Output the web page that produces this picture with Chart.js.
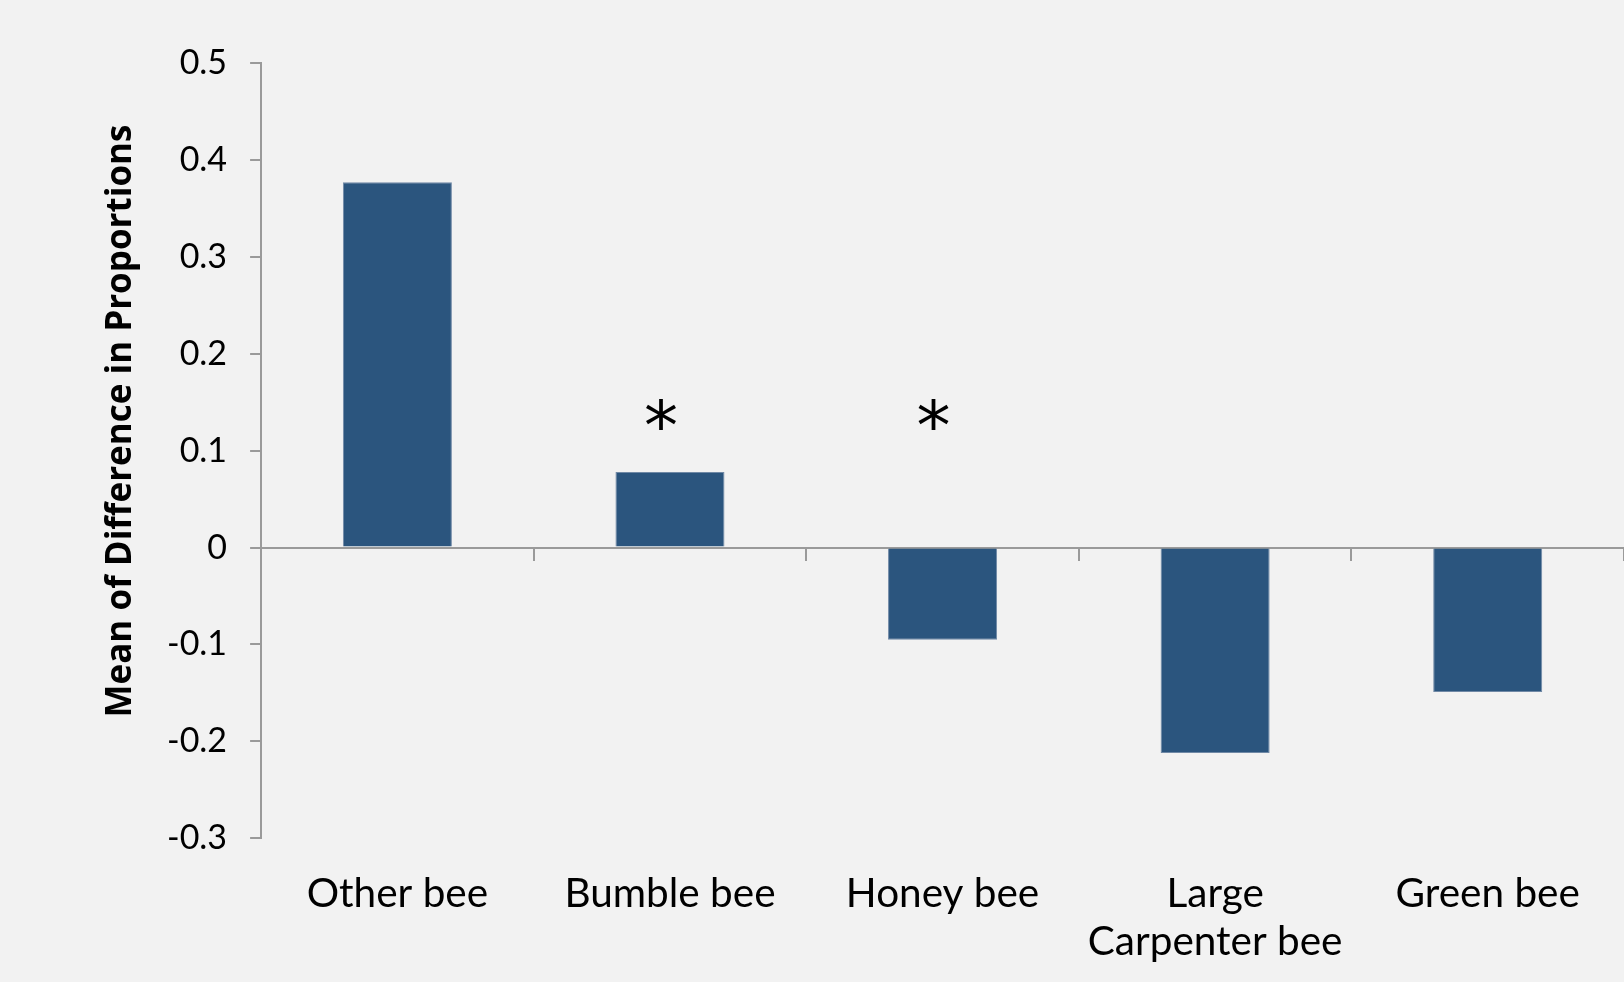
<!DOCTYPE html>
<html>
<head>
<meta charset="utf-8">
<script src="https://cdn.jsdelivr.net/npm/chart.js@4.4.1/dist/chart.umd.min.js"></script>
<style>
  html, body { margin: 0; padding: 0; background: #f2f2f2; }
  #wrap { width: 1624px; height: 982px; position: relative; }
</style>
</head>
<body>
<div id="wrap"><canvas id="chart"></canvas></div>
<script>
// Bee groups along the x axis
const categories = ['Other bee', 'Bumble bee', 'Honey bee', ['Large', 'Carpenter bee'], 'Green bee'];
// Mean difference in visit proportions per group
const meanDifference = [0.377, 0.078, -0.095, -0.212, -0.149];
// Groups flagged as significant (asterisk above the bar)
const significant = [false, true, true, false, false];
const significanceLevel = 0.137;
// Value axis ticks
const yTicks = [-0.3, -0.2, -0.1, 0, 0.1, 0.2, 0.3, 0.4, 0.5];
const yTitle = 'Mean of Difference in Proportions';

const axisGray = '#9a9a9a';
const tickFont = "'Lato', 'Open Sans', sans-serif";

// Rotated axis title and significance asterisks
const annotations = {
  id: 'annotations',
  afterDraw(chart) {
    const { ctx, scales } = chart;
    const x = scales.x, y = scales.y;
    ctx.save();
    ctx.fillStyle = '#000';
    ctx.textAlign = 'center';
    ctx.textBaseline = 'middle';
    ctx.font = "bold 35px 'Open Sans', sans-serif";
    ctx.translate(121, 421);
    ctx.rotate(-Math.PI / 2);
    ctx.fillText(yTitle, 0, 0);
    ctx.restore();

    ctx.save();
    ctx.fillStyle = '#000';
    ctx.textAlign = 'left';
    ctx.textBaseline = 'alphabetic';
    ctx.font = "68px 'DejaVu Sans', sans-serif";
    const m = ctx.measureText('*');
    const w = m.actualBoundingBoxRight + m.actualBoundingBoxLeft;
    const h = m.actualBoundingBoxAscent + m.actualBoundingBoxDescent;
    significant.forEach((flag, i) => {
      if (!flag) return;
      const cx = x.getPixelForValue(i) - 9;
      const cy = y.getPixelForValue(significanceLevel);
      ctx.fillText('*', cx - w / 2 + m.actualBoundingBoxLeft, cy + h / 2 - m.actualBoundingBoxDescent);
    });
    ctx.restore();
  }
};

new Chart(document.getElementById('chart'), {
  type: 'bar',
  data: {
    labels: categories,
    datasets: [{
      data: meanDifference,
      backgroundColor: '#2b557e',
      borderColor: '#7089a6',
      borderWidth: 1,
      barPercentage: 0.4,
      categoryPercentage: 1.0
    }]
  },
  options: {
    responsive: true,
    maintainAspectRatio: false,
    animation: false,
    layout: { padding: { left: 144, top: 63, right: 0, bottom: -7.5 } },
    plugins: { legend: { display: false }, tooltip: { enabled: false } },
    scales: {
      x: {
        position: 'bottom',
        grid: { display: false },
        border: { display: false },
        ticks: {
          color: '#000',
          font: { family: tickFont, size: 40.5, lineHeight: 1.2 },
          padding: 23,
          maxRotation: 0,
          autoSkip: false
        }
      },
      xZero: {
        type: 'category',
        labels: categories,
        position: { y: 0 },
        offset: true,
        border: { display: true, color: axisGray, width: 2 },
        grid: {
          offset: true,
          drawOnChartArea: false,
          drawTicks: true,
          tickLength: 12,
          lineWidth: 2,
          color: (c) => (c.index === 0 ? 'rgba(0,0,0,0)' : axisGray)
        },
        ticks: { display: false }
      },
      y: {
        min: -0.3,
        max: 0.5,
        afterBuildTicks: (scale) => { scale.ticks = yTicks.map(v => ({ value: v })); },
        border: { display: true, color: axisGray, width: 2 },
        grid: { drawOnChartArea: false, drawTicks: true, tickLength: 11, color: axisGray, lineWidth: 2 },
        ticks: {
          color: '#000',
          font: { family: tickFont, size: 34 },
          padding: 23,
          callback: (v) => String(Number(v.toFixed(1)))
        }
      }
    }
  },
  plugins: [annotations]
});
</script>
</body>
</html>
